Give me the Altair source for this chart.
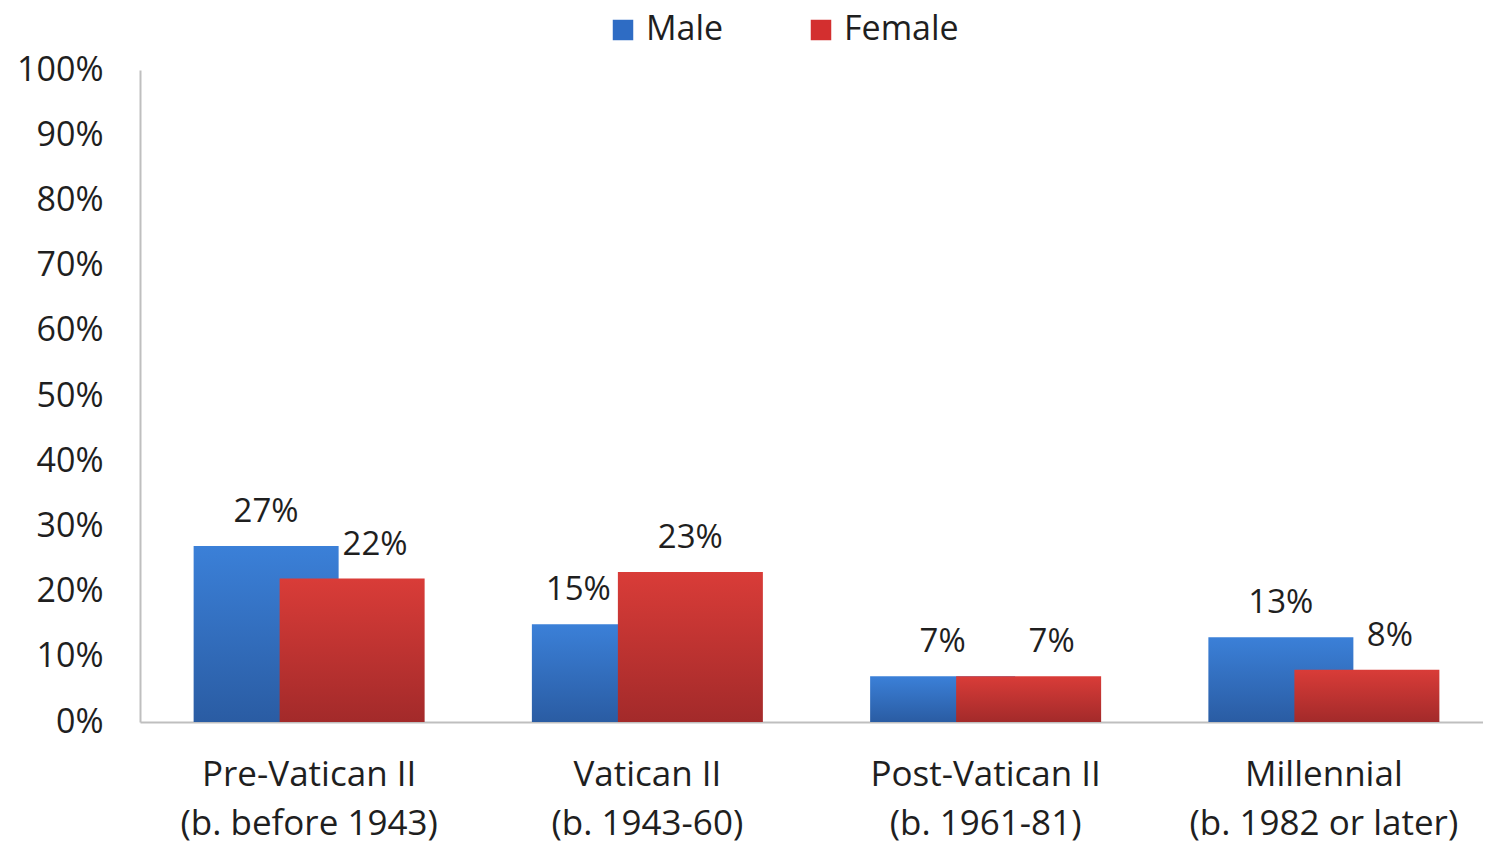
import altair as alt
import pandas as pd

categories = ["Pre-Vatican II\n(b. before 1943)", "Vatican II\n(b. 1943-60)",
              "Post-Vatican II\n(b. 1961-81)", "Millennial\n(b. 1982 or later)"]
male = [27, 15, 7, 13]
female = [22, 23, 7, 8]
series = ["Male", "Female"]
y_ticks = [0, 10, 20, 30, 40, 50, 60, 70, 80, 90, 100]

FONT = "Open Sans"
TXT = "#1f1f1f"
AXIS = "#bfbfbf"

df = pd.DataFrame({"cat": categories, "male": male, "female": female})
leg = pd.DataFrame({"series": series})

x_enc = alt.X("cat:N", sort=None, scale=alt.Scale(range=[0, 1353], paddingInner=0.1, paddingOuter=0.05),
              axis=alt.Axis(title=None, labelExpr="split(datum.label, '\\n')", labelAngle=0,
                            labelFont=FONT, labelFontSize=35, labelColor=TXT, labelLineHeight=49,
                            labelPadding=35, ticks=False, domainColor=AXIS, domainWidth=2,
                            labelLimit=400))
y_scale = alt.Scale(domain=[0, 100], nice=False)
y_axis = alt.Axis(title=None, values=y_ticks, labelExpr="datum.value + '%'", grid=False, ticks=False,
                  domainColor=AXIS, domainWidth=2, labelPadding=37, labelFont=FONT,
                  labelFontSize=34, labelColor=TXT)

def grad(top, bottom):
    return alt.Gradient(gradient="linear", x1=0, x2=0, y1=0, y2=1,
                        stops=[alt.GradientStop(offset=0, color=top),
                               alt.GradientStop(offset=1, color=bottom)])

base = alt.Chart(df)

male_bar = base.mark_bar(width=145, xOffset=-43, fill=grad("#3b80d8", "#2a5ca3")).encode(
    x=x_enc, y=alt.Y("male:Q", scale=y_scale, axis=y_axis))
female_bar = base.mark_bar(width=145, xOffset=43, fill=grad("#d93c38", "#a32a2a")).encode(
    x=x_enc, y=alt.Y("female:Q", scale=y_scale, axis=y_axis))

def lab(field, cond, dx):
    return base.transform_filter(cond).transform_calculate(
        t=f"datum.{field} + '%'").mark_text(
        font=FONT, fontSize=33, color=TXT, baseline="alphabetic", dy=-24, xOffset=dx).encode(
        x=x_enc, y=alt.Y(f"{field}:Q", scale=y_scale, axis=y_axis), text="t:N")

m_lab1 = lab("male", "datum.male >= datum.female", -43)
m_lab2 = lab("male", "datum.male < datum.female", -69)
f_lab1 = lab("female", "datum.female <= datum.male", 66)
f_lab2 = lab("female", "datum.female > datum.male", 43)

legend_layer = alt.Chart(leg).mark_square(opacity=0, size=1).encode(
    x=alt.value(0), y=alt.value(0),
    color=alt.Color("series:N", sort=series,
                    scale=alt.Scale(domain=series, range=["#2e6cc4", "#d32f2f"]),
                    legend=alt.Legend(title=None, orient="none", legendX=466, legendY=-57,
                                      direction="horizontal", symbolType="square", symbolSize=420,
                                      symbolOpacity=1, symbolStrokeWidth=0, labelFont=FONT,
                                      labelFontSize=34, labelColor=TXT, labelOffset=6,
                                      columnPadding=80, padding=0)))

chart = alt.layer(male_bar, female_bar, m_lab1, m_lab2, f_lab1, f_lab2, legend_layer).properties(
    width=1343, height=652,
    autosize=alt.AutoSizeParams(type="none"),
    padding={"left": 132, "top": 62, "right": 0, "bottom": 130},
    background="white",
).configure_view(stroke=None)

chart.save("out.html", embed_options={"renderer": "svg", "actions": False})
